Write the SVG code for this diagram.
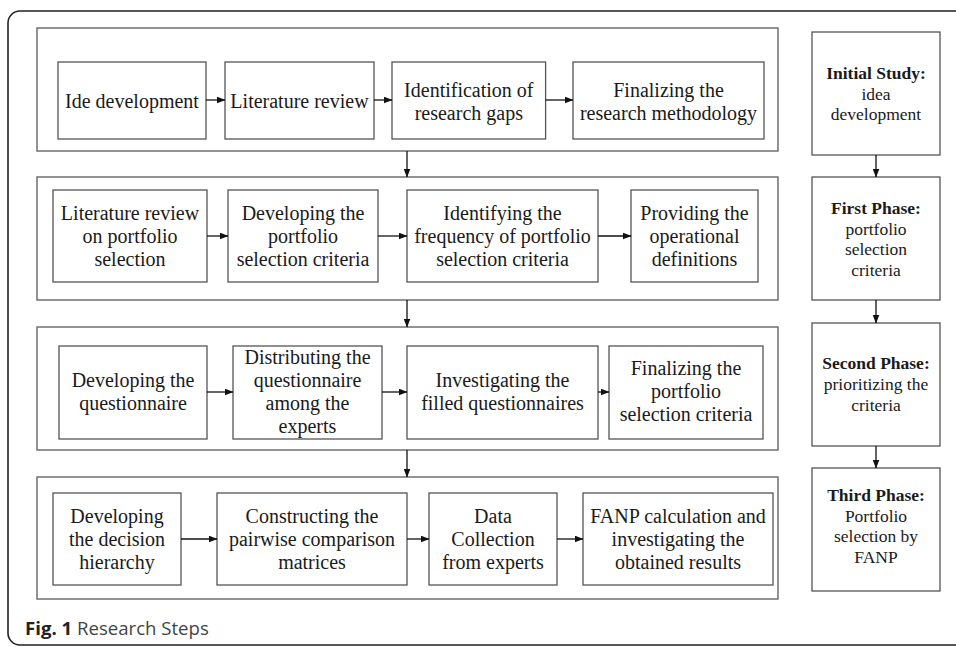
<svg xmlns="http://www.w3.org/2000/svg" width="956" height="647" viewBox="0 0 956 647">
<defs>
<marker id="ah" markerUnits="userSpaceOnUse" markerWidth="9" markerHeight="7" refX="8.5" refY="3.5" orient="auto">
<path d="M0,0 L9,3.5 L0,7 Z" fill="#111"/>
</marker>
</defs>
<style>
.frame{fill:none;stroke:#222;stroke-width:1.6}
.row{fill:#fff;stroke:#666;stroke-width:1.4}
.box{fill:#fff;stroke:#555;stroke-width:1.3}
.t{font-family:"Liberation Serif","Times New Roman",serif;font-size:20px;fill:#1a1a1a;text-anchor:middle}
.r{font-family:"Liberation Serif","Times New Roman",serif;font-size:17.5px;fill:#1a1a1a;text-anchor:middle}
.b{font-weight:bold}
.c{stroke:#111;stroke-width:1.3;fill:none;marker-end:url(#ah)}
.cap{font-family:"Open Sans","Noto Sans",sans-serif;font-size:18.6px;fill:#444}
</style>
<rect width="956" height="647" fill="#fff"/>
<rect class="frame" x="8" y="11" width="970" height="634" rx="12"/>

<g id="row1">
<rect class="row" x="37" y="28" width="741" height="123"/>
<g id="n1"><rect class="box" x="58" y="62" width="148" height="77"/><text class="t" x="132" y="108">Ide development</text></g>
<g id="n2"><rect class="box" x="225" y="62" width="149" height="77"/><text class="t" x="299.5" y="108">Literature review</text></g>
<g id="n3"><rect class="box" x="392" y="62" width="153.6" height="77"/><text class="t" x="468.8" y="97">Identification of</text><text class="t" x="468.8" y="119.5">research gaps</text></g>
<g id="n4"><rect class="box" x="573" y="62" width="191" height="77"/><text class="t" x="668.5" y="97">Finalizing the</text><text class="t" x="668.5" y="119.5">research methodology</text></g>
</g>

<g id="row2">
<rect class="row" x="37" y="177" width="741" height="123"/>
<g id="n5"><rect class="box" x="53" y="190" width="154" height="92"/><text class="t" x="130" y="220">Literature review</text><text class="t" x="130" y="243">on portfolio</text><text class="t" x="130" y="266">selection</text></g>
<g id="n6"><rect class="box" x="228" y="190" width="150" height="92"/><text class="t" x="303" y="220">Developing the</text><text class="t" x="303" y="243">portfolio</text><text class="t" x="303" y="266">selection criteria</text></g>
<g id="n7"><rect class="box" x="407" y="190" width="191" height="92"/><text class="t" x="502.5" y="220">Identifying the</text><text class="t" x="502.5" y="243">frequency of portfolio</text><text class="t" x="502.5" y="266">selection criteria</text></g>
<g id="n8"><rect class="box" x="631" y="190" width="127" height="92"/><text class="t" x="694.5" y="220">Providing the</text><text class="t" x="694.5" y="243">operational</text><text class="t" x="694.5" y="266">definitions</text></g>
</g>

<g id="row3">
<rect class="row" x="37" y="327" width="741" height="123"/>
<g id="n9"><rect class="box" x="59" y="346" width="148" height="93"/><text class="t" x="133" y="387">Developing the</text><text class="t" x="133" y="410">questionnaire</text></g>
<g id="n10"><rect class="box" x="233" y="346" width="149" height="93"/><text class="t" x="307.5" y="364">Distributing the</text><text class="t" x="307.5" y="387">questionnaire</text><text class="t" x="307.5" y="410">among the</text><text class="t" x="307.5" y="433">experts</text></g>
<g id="n11"><rect class="box" x="407" y="346" width="191" height="93"/><text class="t" x="502.5" y="387">Investigating the</text><text class="t" x="502.5" y="410">filled questionnaires</text></g>
<g id="n12"><rect class="box" x="609" y="346" width="154" height="93"/><text class="t" x="686" y="375">Finalizing the</text><text class="t" x="686" y="398">portfolio</text><text class="t" x="686" y="421">selection criteria</text></g>
</g>

<g id="row4">
<rect class="row" x="37" y="477" width="741" height="122"/>
<g id="n13"><rect class="box" x="53" y="493" width="128" height="92"/><text class="t" x="117" y="523">Developing</text><text class="t" x="117" y="546">the decision</text><text class="t" x="117" y="569">hierarchy</text></g>
<g id="n14"><rect class="box" x="217" y="493" width="190" height="92"/><text class="t" x="312" y="523">Constructing the</text><text class="t" x="312" y="546">pairwise comparison</text><text class="t" x="312" y="569">matrices</text></g>
<g id="n15"><rect class="box" x="429" y="493" width="128" height="92"/><text class="t" x="493" y="523">Data</text><text class="t" x="493" y="546">Collection</text><text class="t" x="493" y="569">from experts</text></g>
<g id="n16"><rect class="box" x="583" y="493" width="190" height="92"/><text class="t" x="678" y="523">FANP calculation and</text><text class="t" x="678" y="546">investigating the</text><text class="t" x="678" y="569">obtained results</text></g>
</g>

<g id="p1"><rect class="box" x="812" y="32" width="128" height="123"/><text class="r b" x="876" y="79">Initial Study:</text><text class="r" x="876" y="99.5">idea</text><text class="r" x="876" y="120">development</text></g>
<g id="p2"><rect class="box" x="812" y="177" width="128" height="123"/><text class="r b" x="876" y="214">First Phase:</text><text class="r" x="876" y="234.5">portfolio</text><text class="r" x="876" y="255">selection</text><text class="r" x="876" y="275.5">criteria</text></g>
<g id="p3"><rect class="box" x="812" y="323" width="128" height="123"/><text class="r b" x="876" y="369">Second Phase:</text><text class="r" x="876" y="390">prioritizing the</text><text class="r" x="876" y="411">criteria</text></g>
<g id="p4"><rect class="box" x="812" y="468" width="128" height="123"/><text class="r b" x="876" y="501">Third Phase:</text><text class="r" x="876" y="521.5">Portfolio</text><text class="r" x="876" y="542">selection by</text><text class="r" x="876" y="562.5">FANP</text></g>

<g id="connectors">
<line class="c" x1="206" y1="100" x2="225" y2="100"/>
<line class="c" x1="374" y1="100" x2="392" y2="100"/>
<line class="c" x1="545.6" y1="100" x2="573" y2="100"/>
<line class="c" x1="207" y1="236" x2="228" y2="236"/>
<line class="c" x1="378" y1="236" x2="407" y2="236"/>
<line class="c" x1="598" y1="236" x2="631" y2="236"/>
<line class="c" x1="207" y1="392" x2="233" y2="392"/>
<line class="c" x1="382" y1="392" x2="407" y2="392"/>
<line class="c" x1="598" y1="392" x2="609" y2="392"/>
<line class="c" x1="181" y1="539" x2="217" y2="539"/>
<line class="c" x1="407" y1="539" x2="429" y2="539"/>
<line class="c" x1="557" y1="539" x2="583" y2="539"/>
<line class="c" x1="407" y1="151" x2="407" y2="177"/>
<line class="c" x1="407" y1="300" x2="407" y2="327"/>
<line class="c" x1="407" y1="450" x2="407" y2="477"/>
<line class="c" x1="876" y1="155" x2="876" y2="177"/>
<line class="c" x1="876" y1="300" x2="876" y2="323"/>
<line class="c" x1="876" y1="446" x2="876" y2="468"/>
</g>

<text class="cap" x="25" y="635"><tspan font-weight="bold" fill="#222">Fig. 1</tspan> Research Steps</text>
</svg>
